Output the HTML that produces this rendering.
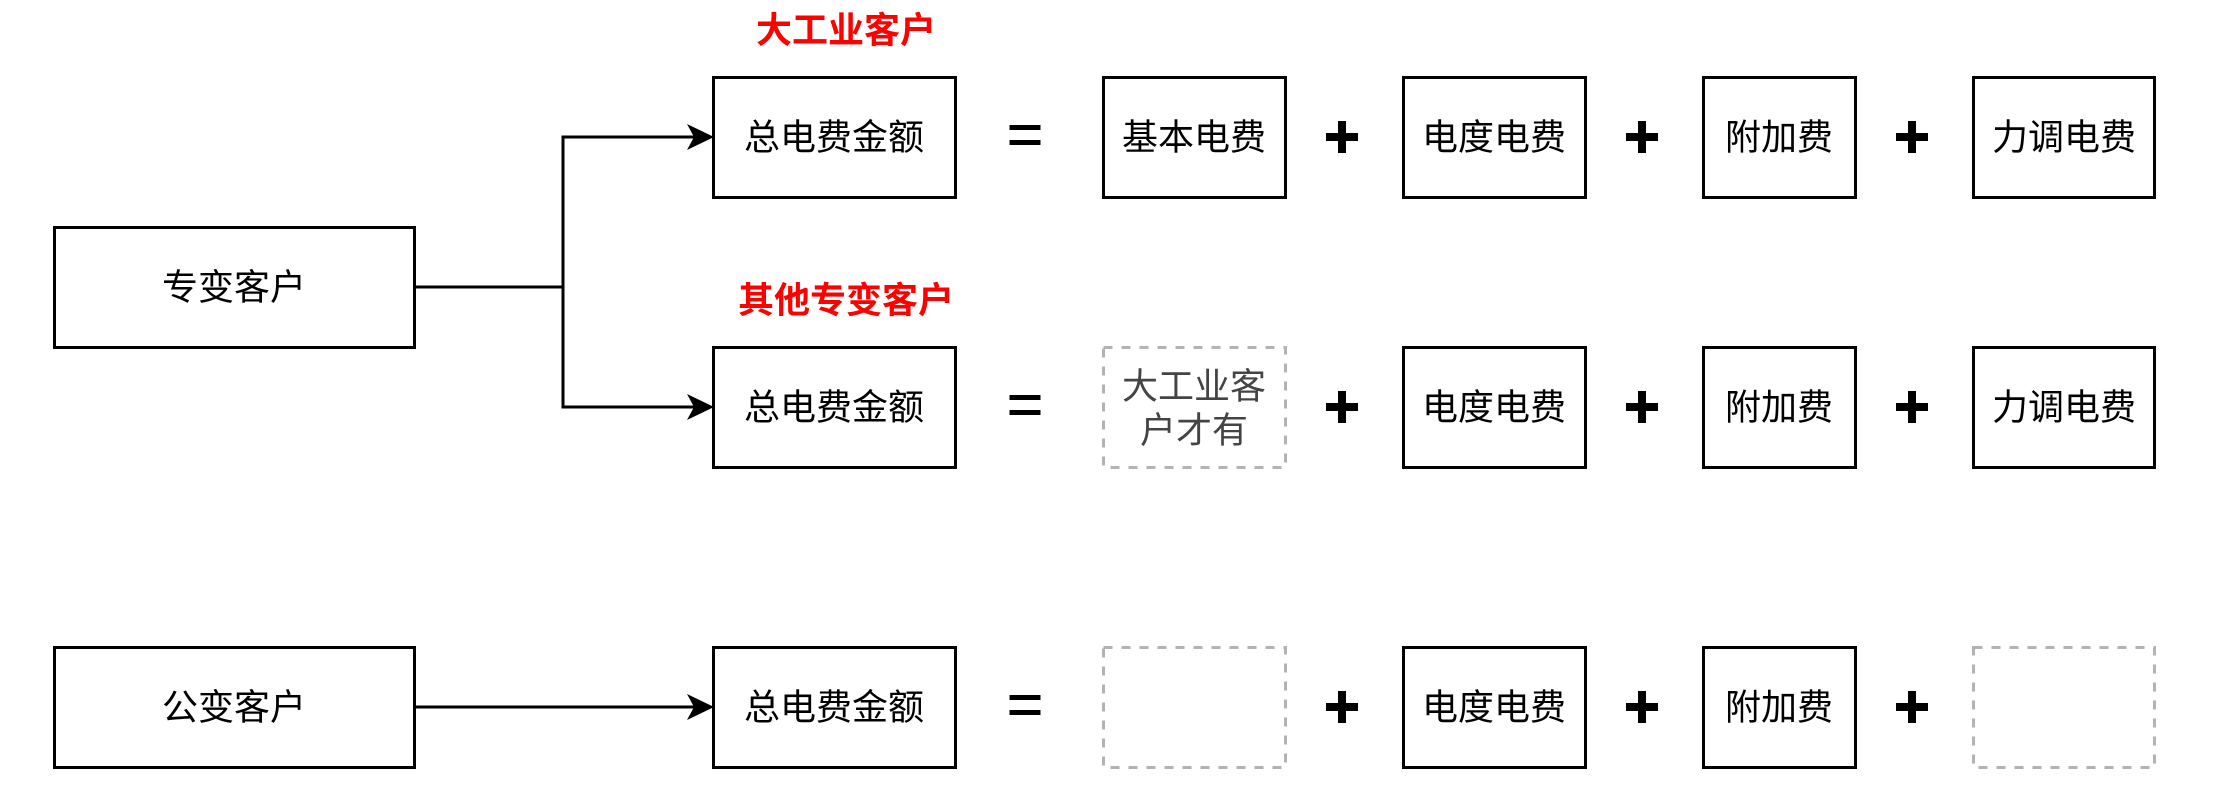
<!DOCTYPE html>
<html><head><meta charset="utf-8"><style>
html,body{margin:0;padding:0;background:#fff;}
svg{display:block;}
text{font-family:"Liberation Sans","Noto Sans CJK SC",sans-serif;}
</style></head><body>
<svg width="2236" height="798" viewBox="0 0 2236 798" xmlns="http://www.w3.org/2000/svg">
<defs>
<g id="plus"><rect x="-16" y="-4" width="32" height="8" fill="#000"/><rect x="-4" y="-16" width="8" height="32" fill="#000"/></g>
<g id="eq"><rect x="-15.5" y="-12" width="31" height="5" fill="#000"/><rect x="-15.5" y="3" width="31" height="5" fill="#000"/></g>
</defs>
<g fill="none" stroke="#000" stroke-width="3">
<rect x="54.5" y="227.5" width="360" height="120"/>
<rect x="54.5" y="647.5" width="360" height="120"/>
<rect x="713.5" y="77.5" width="242" height="120"/>
<rect x="713.5" y="347.5" width="242" height="120"/>
<rect x="713.5" y="647.5" width="242" height="120"/>
<rect x="1103.5" y="77.5" width="182" height="120"/>
<rect x="1403.5" y="77.5" width="182" height="120"/>
<rect x="1703.5" y="77.5" width="152" height="120"/>
<rect x="1973.5" y="77.5" width="181" height="120"/>
<rect x="1403.5" y="347.5" width="182" height="120"/>
<rect x="1703.5" y="347.5" width="152" height="120"/>
<rect x="1973.5" y="347.5" width="181" height="120"/>
<rect x="1403.5" y="647.5" width="182" height="120"/>
<rect x="1703.5" y="647.5" width="152" height="120"/>
<polyline points="414,287 563,287 563,137 695,137"/>
<polyline points="563,287 563,407 695,407"/>
<line x1="414" y1="707" x2="695" y2="707"/>
</g>
<g fill="none" stroke="#b3b3b3" stroke-width="3" stroke-dasharray="9 9">
<rect x="1103.5" y="347.5" width="182" height="120"/>
<rect x="1103.5" y="647.5" width="182" height="120"/>
<rect x="1973.5" y="647.5" width="181" height="120"/>
</g>
<g fill="#000">
<polygon points="714,137 687,124 694,137 687,150"/>
<polygon points="714,407 687,394 694,407 687,420"/>
<polygon points="714,707 687,694 694,707 687,720"/>
</g>
<use href="#eq" x="1025" y="137"/><use href="#eq" x="1025" y="407"/><use href="#eq" x="1025" y="707"/>
<use href="#plus" x="1342" y="137"/><use href="#plus" x="1642" y="137"/><use href="#plus" x="1912" y="137"/>
<use href="#plus" x="1342" y="407"/><use href="#plus" x="1642" y="407"/><use href="#plus" x="1912" y="407"/>
<use href="#plus" x="1342" y="707"/><use href="#plus" x="1642" y="707"/><use href="#plus" x="1912" y="707"/>
<g font-size="36" fill="#000" text-anchor="middle" dominant-baseline="central">
<text x="234" y="287">专变客户</text>
<text x="234" y="707">公变客户</text>
<text x="834" y="137">总电费金额</text>
<text x="834" y="407">总电费金额</text>
<text x="834" y="707">总电费金额</text>
<text x="1194" y="137">基本电费</text>
<text x="1494" y="137">电度电费</text>
<text x="1779" y="137">附加费</text>
<text x="2064" y="137">力调电费</text>
<text x="1494" y="407">电度电费</text>
<text x="1779" y="407">附加费</text>
<text x="2064" y="407">力调电费</text>
<text x="1494" y="707">电度电费</text>
<text x="1779" y="707">附加费</text>
<text x="1194" y="386" fill="#444">大工业客</text>
<text x="1194" y="430" fill="#444">户才有</text>
<text x="846" y="30" fill="#ff0000" font-weight="bold">大工业客户</text>
<text x="846" y="300" fill="#ff0000" font-weight="bold">其他专变客户</text>
</g>
</svg>
</body></html>
